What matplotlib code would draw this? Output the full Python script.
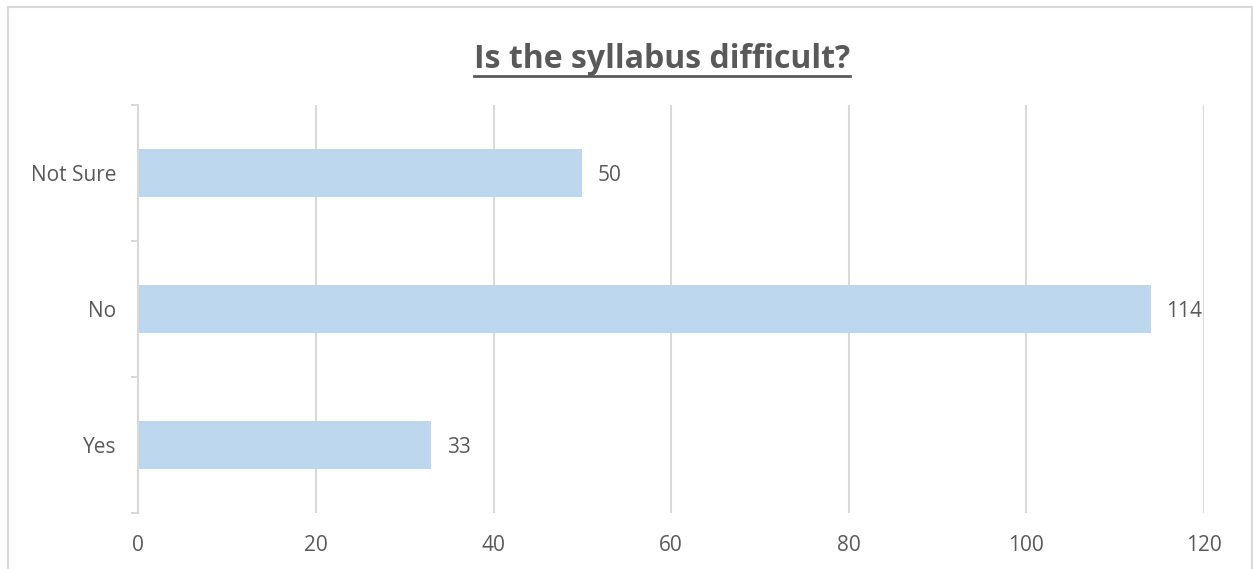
import matplotlib
matplotlib.use("Agg")
import matplotlib.pyplot as plt
from matplotlib.patches import Rectangle
from matplotlib.lines import Line2D

categories = ["Yes", "No", "Not Sure"]
counts = [33, 114, 50]
x_ticks = [0, 20, 40, 60, 80, 100, 120]
title = "Is the syllabus difficult?"

txt_color = "#595959"
grid_color = "#D9D9D9"
bar_color = "#BDD7EE"

plt.rcParams["font.family"] = ["Open Sans", "DejaVu Sans"]

W, H = 1253, 569
fig = plt.figure(figsize=(W / 100, H / 100), dpi=100)

# chart border (runs off the bottom of the image)
fig.patches.append(Rectangle((8 / W, -0.05), (W - 9) / W, 1 - 7 / H + 0.05,
                             transform=fig.transFigure, fill=False,
                             edgecolor=grid_color, linewidth=1.5))

ax = fig.add_axes([138.3 / W, 1 - 513 / H, (1204 - 138.3) / W, (513 - 105) / H])
ypos = list(range(len(categories)))
ax.barh(ypos, counts, height=0.35, color=bar_color, zorder=2)

for y, v in zip(ypos, counts):
    ax.annotate(str(v), (v, y), xytext=(11, 0), textcoords="offset points",
                va="center_baseline", ha="left", fontsize=15, color=txt_color)

ax.set_xlim(0, 120)
ax.set_ylim(-0.5, len(categories) - 0.5)
ax.set_xticks(x_ticks)
ax.set_xticklabels([str(t) for t in x_ticks])
ax.set_yticks(ypos)
ax.set_yticklabels(categories)
ax.set_yticks([-0.5, 0.5, 1.5, 2.5], minor=True)

ax.tick_params(axis="x", length=0, pad=16, labelsize=15, labelcolor=txt_color)
ax.tick_params(axis="y", which="major", length=0, pad=16, labelsize=15, labelcolor=txt_color)
ax.tick_params(axis="y", which="minor", length=5, width=1.5, color=grid_color, direction="out")

ax.grid(axis="x", color=grid_color, linewidth=1.5, zorder=0)
ax.set_axisbelow(True)
for s in ["top", "right", "bottom"]:
    ax.spines[s].set_visible(False)
ax.spines["left"].set_color(grid_color)
ax.spines["left"].set_linewidth(1.5)
ax.spines["left"].set_zorder(3)

t = fig.text(662 / W, 1 - 59 / H, title, ha="center", va="center",
             fontsize=23, fontweight="bold", color=txt_color)

# underline the title
fig.canvas.draw()
bb = t.get_window_extent().transformed(fig.transFigure.inverted())
uy = 1 - 76 / H
fig.add_artist(Line2D([bb.x0, bb.x1], [uy, uy], transform=fig.transFigure,
                      color=txt_color, linewidth=2))

fig.savefig("out.png", dpi=100)
